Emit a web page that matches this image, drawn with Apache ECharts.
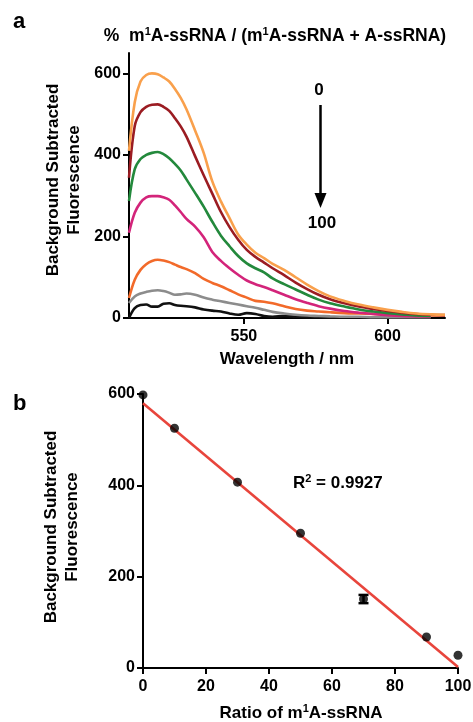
<!DOCTYPE html>
<html>
<head>
<meta charset="utf-8">
<script src="https://cdn.jsdelivr.net/npm/echarts@6/dist/echarts.min.js"></script>
<style>
html,body{margin:0;padding:0;background:#fff;}
#chart{width:473px;height:722px;}
</style>
</head>
<body>
<div id="chart"></div>
<script>
// ---- Panel a: emission spectra ----
const wavelengths = [510,512,514,516,518,520,522,524,526,528,530,533,536,539,542,545,548,551,554,557,560,564,568,572,576,580,585,590,595,600,605,610,615,620];
const spec0   = [410,529,580,596,600,598,590,580,562,540,512,460,405,335,286,245,205,180,160,147,133,118,100,82,66,53,42,33,26,20,15,11,9,8];
const spec10  = [344,471,505,518,523,524,518,508,490,470,445,397,350,305,260,223,192,167,150,136,122,105,87,71,57,46,36,28,22,17,13,10,8,7];
const spec30  = [287,365,390,400,405,407,402,392,378,362,340,307,273,236,202,176,152,134,122,112,97,83,70,57,45,36,28,21,16,12,9,6,5,null];
const spec50  = [209,258,283,296,299,299,296,290,276,260,243,224,198,162,140,122,106,92,83,76,68,57,46,37,29,23,17,13,10,7,5,4,3,null];
const spec70  = [49,94,118,132,140,143,141,137,131,125,120,110,96,86,78,68,58,50,42,40,36,29,22,18,16,14,12,11,10,9,8,7,6,6];
const spec90  = [37,53,60,64,67,68,66,62,57,58,60,57,50,45,41,37,33,29,25,20,15,11,8,6,5,4,3,3,2,2,2,2,2,null];
const spec100 = [0,24,32,33,28,28,35,36,32,30,29,26,21,18,16,11,8,12,10,5,3,5,3,2,2,1,1,1,1,1,1,1,1,null];
const specTicksX = [550, 600];
const specTicksY = [0, 200, 400, 600];

// ---- Panel b: calibration ----
const ratios      = [0, 10, 30, 50, 70, 90, 100];
const fluorescence = [598, 525, 407, 295, 151, 68, 28];
const errLow  = [null, null, null, null, 142, null, null];
const errHigh = [null, null, null, null, 160, null, null];
const fitLine = [[0, 580], [100, 2]];

const FONT = '"Liberation Sans", Arial, Helvetica, sans-serif';

function pairs(xs, ys){ return xs.map((x,i)=>[x, ys[i]]); }

const specSeries = [
  {d: spec100, c: '#111111'},
  {d: spec90,  c: '#8c8c8c'},
  {d: spec70,  c: '#f26a2a'},
  {d: spec50,  c: '#d3247a'},
  {d: spec30,  c: '#23893c'},
  {d: spec10,  c: '#9b1c22'},
  {d: spec0,   c: '#f9a04c'}
].map(s => ({
  type: 'line', xAxisIndex: 0, yAxisIndex: 0,
  data: pairs(wavelengths, s.d),
  showSymbol: false, smooth: 0.35, connectNulls: false,
  lineStyle: {color: s.c, width: 2.6},
  itemStyle: {color: s.c},
  silent: true, animation: false
}));

const errData = ratios.map((r,i)=> errLow[i]==null ? null : [r, errLow[i], errHigh[i]]).filter(Boolean);

const axisCommon = {
  axisLine: {show: true, onZero: false, lineStyle: {color: '#000', width: 2}},
  axisTick: {show: true, length: 6, lineStyle: {color: '#000', width: 2}},
  splitLine: {show: false},
  axisLabel: {color: '#000', fontFamily: FONT, fontWeight: 'bold', fontSize: 16}
};

const supRich = (size) => ({
  n: {fontFamily: FONT, fontWeight: 'bold', fontSize: size, lineHeight: 20, fill: '#000', color: '#000'},
  s: {fontFamily: FONT, fontWeight: 'bold', fontSize: 11, lineHeight: 20, verticalAlign: 'top', fill: '#000', color: '#000'}
});

const option = {
  backgroundColor: '#fff',
  animation: false,
  grid: [
    {left: 129, right: 28, top: 53, bottom: 404, outerBoundsMode: 'none', containLabel: false},
    {left: 143, right: 15, top: 394, bottom: 54, outerBoundsMode: 'none', containLabel: false}
  ],
  xAxis: [
    Object.assign({}, axisCommon, {
      gridIndex: 0, type: 'value', min: 510, max: 620,
      axisTick: Object.assign({}, axisCommon.axisTick, {customValues: specTicksX}),
      axisLabel: Object.assign({}, axisCommon.axisLabel, {customValues: specTicksX, margin: 11})
    }),
    Object.assign({}, axisCommon, {
      gridIndex: 1, type: 'value', min: 0, max: 100, interval: 20,
      axisLabel: Object.assign({}, axisCommon.axisLabel, {margin: 11})
    })
  ],
  yAxis: [
    Object.assign({}, axisCommon, {
      gridIndex: 0, type: 'value', min: 0, max: 650,
      axisTick: Object.assign({}, axisCommon.axisTick, {customValues: specTicksY}),
      axisLabel: Object.assign({}, axisCommon.axisLabel, {customValues: specTicksY, margin: 8})
    }),
    Object.assign({}, axisCommon, {
      gridIndex: 1, type: 'value', min: 0, max: 600, interval: 200,
      axisLabel: Object.assign({}, axisCommon.axisLabel, {margin: 8})
    })
  ],
  series: specSeries.concat([
    {
      type: 'line', xAxisIndex: 1, yAxisIndex: 1, data: fitLine,
      showSymbol: false, lineStyle: {color: '#e8453c', width: 2.6}, silent: true, z: 2
    },
    {
      type: 'custom', xAxisIndex: 1, yAxisIndex: 1, data: errData, z: 3,
      renderItem: function(params, api){
        const x = api.value(0);
        const p1 = api.coord([x, api.value(1)]);
        const p2 = api.coord([x, api.value(2)]);
        const hw = 5;
        const st = {stroke: '#000', lineWidth: 2.5};
        return {type: 'group', children: [
          {type: 'line', shape: {x1: p1[0], y1: p1[1], x2: p2[0], y2: p2[1]}, style: st},
          {type: 'line', shape: {x1: p1[0]-hw, y1: p1[1], x2: p1[0]+hw, y2: p1[1]}, style: st},
          {type: 'line', shape: {x1: p2[0]-hw, y1: p2[1], x2: p2[0]+hw, y2: p2[1]}, style: st}
        ]};
      }
    },
    {
      type: 'scatter', xAxisIndex: 1, yAxisIndex: 1, data: pairs(ratios, fluorescence),
      symbol: 'circle', symbolSize: 9, itemStyle: {color: '#000'}, z: 4, silent: true
    }
  ]),
  graphic: [
    {type: 'text', x: 13, y: 22, style: {text: 'a', font: 'bold 22px ' + FONT, fill: '#000', textVerticalAlign: 'middle'}},
    {type: 'text', x: 13, y: 404, style: {text: 'b', font: 'bold 22px ' + FONT, fill: '#000', textVerticalAlign: 'middle'}},
    {type: 'text', x: 275, y: 36, style: {
      text: '{n|%  m}{s|1}{n|A-ssRNA / (m}{s|1}{n|A-ssRNA + A-ssRNA)}',
      textAlign: 'center', textVerticalAlign: 'middle', rich: supRich(17.5)
    }},
    // y titles
    {type: 'text', x: 64, y: 180, rotation: Math.PI/2, style: {
      text: 'Background Subtracted\nFluorescence', font: 'bold 17px ' + FONT, fill: '#000',
      textAlign: 'center', textVerticalAlign: 'middle', lineHeight: 21
    }},
    {type: 'text', x: 62, y: 527, rotation: Math.PI/2, style: {
      text: 'Background Subtracted\nFluorescence', font: 'bold 17px ' + FONT, fill: '#000',
      textAlign: 'center', textVerticalAlign: 'middle', lineHeight: 21
    }},
    // x titles
    {type: 'text', x: 287, y: 359, style: {text: 'Wavelength / nm', font: 'bold 17px ' + FONT, fill: '#000', textAlign: 'center', textVerticalAlign: 'middle'}},
    {type: 'text', x: 301, y: 713, style: {
      text: '{n|Ratio of m}{s|1}{n|A-ssRNA}', textAlign: 'center', textVerticalAlign: 'middle', rich: supRich(17)
    }},
    // arrow annotation
    {type: 'text', x: 319, y: 90, style: {text: '0', font: 'bold 17px ' + FONT, fill: '#000', textAlign: 'center', textVerticalAlign: 'middle'}},
    {type: 'line', shape: {x1: 320.5, y1: 105, x2: 320.5, y2: 196}, style: {stroke: '#000', lineWidth: 2.5}},
    {type: 'polygon', shape: {points: [[314.5, 193], [326.5, 193], [320.5, 208]]}, style: {fill: '#000'}},
    {type: 'text', x: 322, y: 223, style: {text: '100', font: 'bold 17px ' + FONT, fill: '#000', textAlign: 'center', textVerticalAlign: 'middle'}},
    // R squared
    {type: 'text', x: 293, y: 483, style: {
      text: '{n|R}{s|2}{n| = 0.9927}', textVerticalAlign: 'middle', rich: supRich(17)
    }}
  ]
};

const chart = echarts.init(document.getElementById('chart'), null, {renderer: 'canvas'});
chart.setOption(option);
</script>
</body>
</html>
